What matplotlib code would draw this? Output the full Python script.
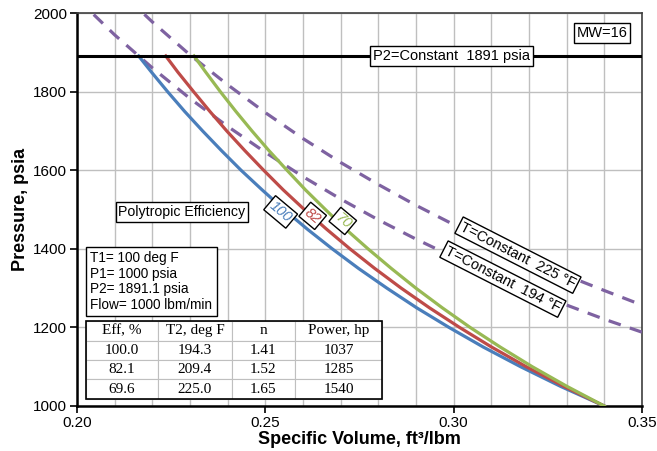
import numpy as np
import matplotlib.pyplot as plt

plt.rcParams['font.family'] = ['Liberation Sans', 'DejaVu Sans']

# polytropic compression curves, pressure vs specific volume
pres = [1000, 1050, 1100, 1150, 1200, 1250, 1300, 1350, 1400, 1450, 1500,
        1550, 1600, 1650, 1700, 1750, 1800, 1850, 1891]
v_100 = [0.3400, 0.3284, 0.3178, 0.3079, 0.2988, 0.2902, 0.2823, 0.2748, 0.2678, 0.2612,
         0.2550, 0.2492, 0.2436, 0.2384, 0.2334, 0.2286, 0.2241, 0.2198, 0.2164]
v_82 = [0.3400, 0.3293, 0.3193, 0.3101, 0.3016, 0.2936, 0.2861, 0.2791, 0.2725, 0.2663,
        0.2604, 0.2548, 0.2496, 0.2446, 0.2398, 0.2353, 0.2310, 0.2268, 0.2236]
v_70 = [0.3400, 0.3301, 0.3209, 0.3124, 0.3044, 0.2970, 0.2900, 0.2835, 0.2773, 0.2714,
        0.2660, 0.2607, 0.2558, 0.2510, 0.2465, 0.2422, 0.2381, 0.2342, 0.2311]

# isotherms
v_iso = [0.20, 0.21, 0.22, 0.23, 0.24, 0.25, 0.26, 0.27, 0.28, 0.29,
         0.30, 0.31, 0.32, 0.33, 0.34, 0.35]
p_194 = [2038, 1945, 1861, 1783, 1712, 1646, 1584, 1527, 1474, 1425,
         1379, 1336, 1295, 1257, 1221, 1188]
p_225 = [2160, 2069, 1978, 1894, 1818, 1747, 1681, 1620, 1564, 1511,
         1462, 1416, 1373, 1332, 1294, 1257]

p2 = 1891

col_labels = ["Eff, %", "T2, deg F", "n", "Power, hp"]
table_rows = [["100.0", "194.3", "1.41", "1037"],
              ["82.1", "209.4", "1.52", "1285"],
              ["69.6", "225.0", "1.65", "1540"]]

blue = '#4A7EBB'
red = '#BE4B48'
green = '#98B954'
purple = '#7E62A1'

fig = plt.figure(figsize=(6.57, 4.51), dpi=100)
ax = fig.add_axes([0.117, 0.0998, 0.860, 0.871])

ax.plot(v_iso, p_225, color=purple, lw=2.3, dashes=(4, 3), zorder=3)
ax.plot(v_iso, p_194, color=purple, lw=2.3, dashes=(4, 3), zorder=3)
ax.plot(v_100, pres, color=blue, lw=2.3, zorder=4)
ax.plot(v_82, pres, color=red, lw=2.3, zorder=4)
ax.plot(v_70, pres, color=green, lw=2.3, zorder=4)
ax.axhline(p2, color='black', lw=2.2, zorder=5)

ax.set_xlim(0.20, 0.35)
ax.set_ylim(1000, 2000)
ax.set_xticks([0.20, 0.25, 0.30, 0.35])
ax.set_xticklabels(["0.20", "0.25", "0.30", "0.35"])
ax.set_xticks(np.arange(0.20, 0.351, 0.01), minor=True)
ax.set_yticks([1000, 1200, 1400, 1600, 1800, 2000])
ax.grid(True, which='both', color='#BFBFBF', lw=1.0, zorder=0)
ax.tick_params(which='minor', length=0)
ax.tick_params(which='major', direction='out', length=5, width=1.2, labelsize=11, pad=2)
for s in ['left', 'bottom']:
    ax.spines[s].set_linewidth(1.8)
for s in ['top', 'right']:
    ax.spines[s].set_linewidth(1.2)
    ax.spines[s].set_color('#404040')

ax.set_xlabel("Specific Volume, ft³/lbm", fontsize=13, fontweight='bold', labelpad=1)
ax.set_ylabel("Pressure, psia", fontsize=13, fontweight='bold', labelpad=3)

fs = 10.5
box = dict(boxstyle='square,pad=0.2', fc='white', ec='black', lw=1)
ax.text(0.2995, p2, "P2=Constant  1891 psia", fontsize=fs, ha='center', va='center',
        bbox=box, zorder=6)
ax.text(0.3394, 1949, "MW=16", fontsize=fs, ha='center', va='center', bbox=box, zorder=6)
ax.text(0.2279, 1494, "Polytropic Efficiency", fontsize=10.2, ha='center', va='center',
        bbox=box, zorder=6)
ax.text(0.2036, 1317, "T1= 100 deg F\nP1= 1000 psia\nP2= 1891.1 psia\nFlow= 1000 lbm/min",
        fontsize=9.8, ha='left', va='center', linespacing=1.15,
        bbox=dict(boxstyle='square,pad=0.3', fc='white', ec='black', lw=1), zorder=6)

lbl_box = dict(boxstyle='square,pad=0.15', fc='white', ec='black', lw=1)
ax.text(0.2541, 1494, "100", color=blue, fontsize=fs, style='italic', rotation=-40,
        ha='center', va='center', bbox=lbl_box, zorder=7)
ax.text(0.2626, 1484, "82", color=red, fontsize=fs, style='italic', rotation=-40,
        ha='center', va='center', bbox=lbl_box, zorder=7)
ax.text(0.2706, 1471, "70", color=green, fontsize=fs, style='italic', rotation=-40,
        ha='center', va='center', bbox=lbl_box, zorder=7)
ax.text(0.3171, 1384, "T=Constant  225 °F", fontsize=fs, rotation=-27,
        ha='center', va='center', bbox=lbl_box, zorder=7)
ax.text(0.3131, 1323, "T=Constant  194 °F", fontsize=fs, rotation=-27,
        ha='center', va='center', bbox=lbl_box, zorder=7)

tbl = ax.table(cellText=table_rows, colLabels=col_labels, cellLoc='center',
               colWidths=[72, 74, 63, 87], bbox=[0.016, 0.018, 0.524, 0.198], zorder=8)
tbl.auto_set_font_size(False)
for (r, c), cell in tbl.get_celld().items():
    cell.set_edgecolor('#BFBFBF')
    cell.set_linewidth(0.8)
    cell.set_facecolor('white')
    cell.get_text().set_fontsize(11)
    cell.get_text().set_fontfamily('Liberation Serif')
ax.add_patch(plt.Rectangle((0.016, 0.018), 0.524, 0.198, transform=ax.transAxes,
                           fill=False, ec='black', lw=1.2, zorder=9))

fig.savefig("out.png", dpi=100)
